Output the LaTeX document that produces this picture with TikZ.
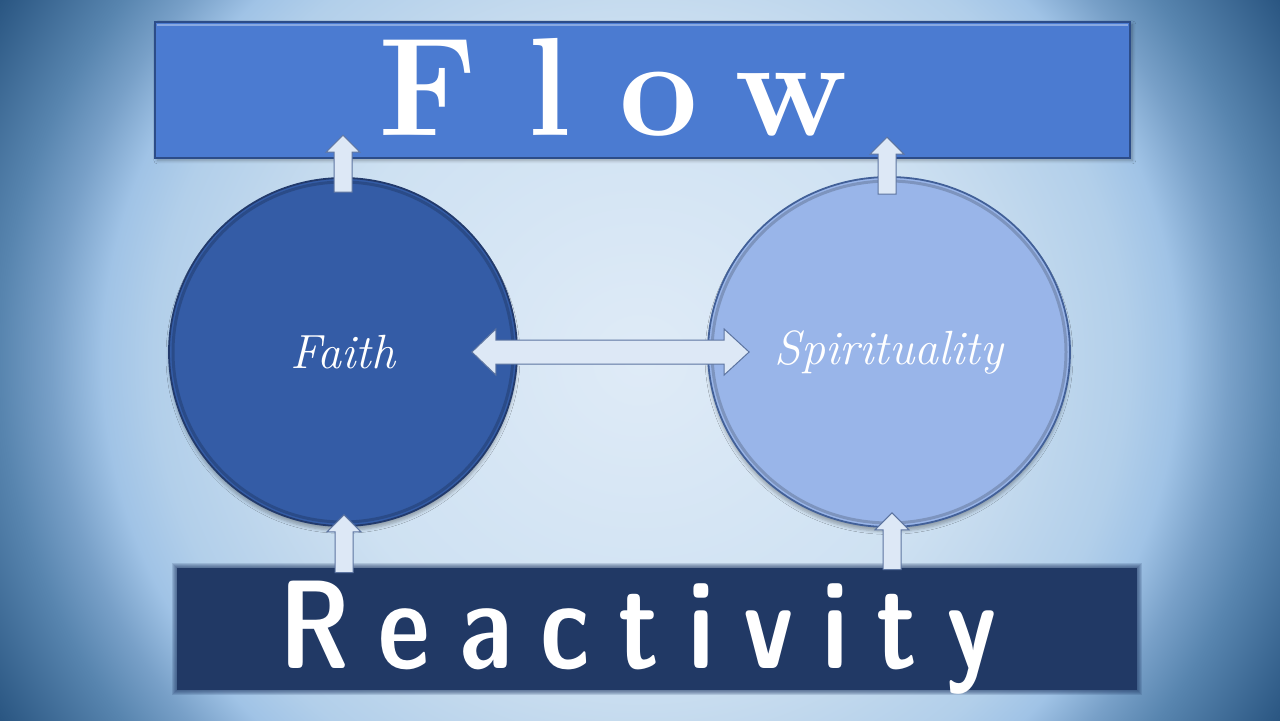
\documentclass[tikz,border=0pt]{standalone}
\usetikzlibrary{calc,shadows.blur,shapes.geometric}
\definecolor{bg0}{RGB}{223,235,247}
\definecolor{bg1}{RGB}{206,225,242}
\definecolor{bg2}{RGB}{196,218,238}
\definecolor{bg3}{RGB}{178,207,234}
\definecolor{bg4}{RGB}{160,195,230}
\definecolor{bg5}{RGB}{120,160,200}
\definecolor{bg6}{RGB}{88,133,175}
\definecolor{bg7}{RGB}{42,86,130}
\definecolor{bg8}{RGB}{30,68,112}
\definecolor{flowfill}{RGB}{75,123,209}
\definecolor{flowdraw}{RGB}{44,76,136}
\definecolor{reactfill}{RGB}{33,57,101}
\definecolor{faithfill}{RGB}{52,92,166}
\definecolor{faithdraw}{RGB}{34,58,108}
\definecolor{spirfill}{RGB}{153,181,233}
\definecolor{spirdraw}{RGB}{66,96,152}
\definecolor{arrfill}{RGB}{221,232,246}
\definecolor{arrdraw}{RGB}{92,116,160}
\pgfdeclareradialshading{bgvig}{\pgfpoint{0bp}{0bp}}{%
  color(0bp)=(bg0); color(12.5bp)=(bg1); color(15bp)=(bg2); color(19bp)=(bg3);
  color(21bp)=(bg4); color(23bp)=(bg5); color(25bp)=(bg6); color(29bp)=(bg7);
  color(37.5bp)=(bg8); color(50bp)=(bg8)}
\tikzset{
  flowbox/.style={rectangle, fill=flowfill, draw=flowdraw, line width=1.2pt,
    minimum width=487.5pt, minimum height=68pt, inner sep=0pt,
    blur shadow={shadow xshift=1.2pt, shadow yshift=-1.2pt, shadow opacity=30, shadow blur steps=6}},
  reactbox/.style={rectangle, fill=reactfill, draw=none,
    minimum width=480pt, minimum height=61pt, inner sep=0pt},
  softedge/.style={draw=reactfill, draw opacity=0.16},
  faithcirc/.style={circle, fill=faithfill, draw=faithdraw, line width=0.9pt,
    minimum size=174pt, inner sep=0pt, text=white,
    font=\fontsize{24}{28}\selectfont\itshape,
    blur shadow={shadow xshift=0pt, shadow yshift=-2.2pt, shadow opacity=28, shadow blur steps=5, shadow blur radius=1.5pt}},
  spircirc/.style={ellipse, fill=spirfill, draw=spirdraw, line width=0.9pt,
    minimum width=181pt, minimum height=175pt, inner sep=0pt, text=white,
    font=\fontsize{24}{28}\selectfont\itshape,
    blur shadow={shadow xshift=0pt, shadow yshift=-2.2pt, shadow opacity=28, shadow blur steps=5, shadow blur radius=1.5pt}},
  rimline/.style={draw=black, draw opacity=0.18, line width=1.5pt},
  fatarrow/.style={fill=arrfill, draw=arrdraw, line width=0.5pt, line join=miter},
  bigtext/.style={text=white, inner sep=0pt}
}
\newcommand\fatup[2]{% #1 base, #2 tip (pointing up)
  \draw[fatarrow] ($(#1)+(-9,0)$) -- ($(#2)+(-9,17)$) -- ($(#2)+(-17,17)$) -- (#2)
    -- ($(#2)+(17,17)$) -- ($(#2)+(9,17)$) -- ($(#1)+(9,0)$) -- cycle;}
\newcommand\fatboth[2]{% #1 left tip, #2 right tip
  \draw[fatarrow] (#1) -- ($(#1)+(24,-23)$) -- ($(#1)+(24,-12)$) -- ($(#2)+(-25,-12)$)
    -- ($(#2)+(-25,-23)$) -- (#2) -- ($(#2)+(-25,23)$) -- ($(#2)+(-25,12)$)
    -- ($(#1)+(24,12)$) -- ($(#1)+(24,23)$) -- cycle;}
\begin{document}
\begin{tikzpicture}[x=0.5pt,y=-0.5pt]
\useasboundingbox (0,0) rectangle (1280,720);
\begin{scope}
\clip (0,0) rectangle (1280,720);
\shade[shading=bgvig] (0,-250) rectangle (1280,970);
\end{scope}
% boxes
\node[flowbox] (flow) at (642.5,90) {};
\draw[white, opacity=0.35, line width=0.8pt] ($(flow.north west)+(3,4)$) -- ($(flow.north east)+(-3,4)$);
\node[reactbox] (react) at (657,629) {};
\foreach \w in {1,2,3,4,5}
  \draw[softedge, line width=\w pt] (react.north west) rectangle (react.south east);
% circles
\node[faithcirc] (faith) at (343,352) {Faith};
\node[spircirc] (spir) at (889,352) {Spirituality};
\draw[rimline] (faith.center) circle[radius=170];
\draw[rimline] (spir.center) ellipse[x radius=177, y radius=171];
% texts in boxes
\node[bigtext, anchor=base west, font=\fontsize{70}{80}\selectfont\bfseries] (flowtxt) at (378,135)
  {F\hspace{25pt}l\hspace{24pt}o\hspace{18pt}w};
\node[bigtext, anchor=base] (reacttxt) at (638,668)
  {\scalebox{0.8}[1]{\fontsize{63}{70}\selectfont\sffamily\bfseries
   R\hspace{18pt}e\hspace{18pt}a\hspace{18pt}c\hspace{18pt}t\hspace{18pt}i\hspace{18pt}v\hspace{18pt}i\hspace{18pt}t\hspace{18pt}y}};
% connectors
\coordinate (fb) at ($(faith.north)+(0,15)$);
\coordinate (ft) at ($(flow.south -| faith)+(0,-24)$);
\coordinate (sb) at ($(spir.north)+(-2,18)$);
\coordinate (st) at ($(flow.south -| spir)+(-2,-22)$);
\coordinate (rfb) at ($(react.north -| faith)+(1,5)$);
\coordinate (rft) at ($(faith.south)+(1,-12)$);
\coordinate (rsb) at ($(react.north -| spir)+(3,2)$);
\coordinate (rst) at ($(spir.south)+(3,-15)$);
\fatup{fb}{ft}
\fatup{sb}{st}
\fatup{rfb}{rft}
\fatup{rsb}{rst}
\coordinate (dl) at ($(faith.east)+(-46,0)$);
\coordinate (dr) at ($(spir.west)+(42,0)$);
\fatboth{dl}{dr}
\end{tikzpicture}
\end{document}
